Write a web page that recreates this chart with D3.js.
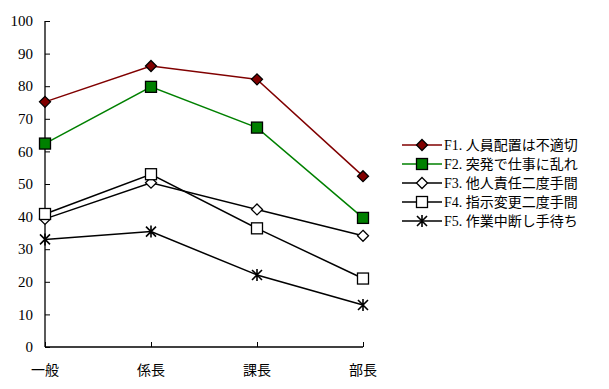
<!DOCTYPE html>
<html lang="ja">
<head>
<meta charset="utf-8">
<title>職位別</title>
<script src="https://cdn.jsdelivr.net/npm/d3@7/dist/d3.min.js"></script>
<style>
  body { margin: 0; background: #fff; }
  text { font-family: "Liberation Serif", "DejaVu Serif", "Noto Sans CJK JP", serif; fill: #000; }
</style>
</head>
<body>
<script>

var categories = ["一般", "係長", "課長", "部長"];
var seriesNames = ["F1. 人員配置は不適切", "F2. 突発で仕事に乱れ", "F3. 他人責任二度手間", "F4. 指示変更二度手間", "F5. 作業中断し手待ち"];
var f1 = [75.2, 86.2, 82.1, 52.4];
var f2 = [62.4, 79.8, 67.3, 39.6];
var f3 = [39.3, 50.4, 42.2, 34.1];
var f4 = [40.8, 53.0, 36.4, 21.0];
var f5 = [33.0, 35.4, 22.1, 12.9];
var yTicks = [0, 10, 20, 30, 40, 50, 60, 70, 80, 90, 100];

var width = 609, height = 389;

var svg = d3.select("body").append("svg")
    .attr("width", width)
    .attr("height", height);

var x = d3.scalePoint()
    .domain(categories)
    .range([45, 363]);

var y = d3.scaleLinear()
    .domain([0, 100])
    .range([347, 21]);

// styles per series
var series = [
    { name: seriesNames[0], values: f1, line: "#800000", marker: "diamond", fill: "#800000" },
    { name: seriesNames[1], values: f2, line: "#008000", marker: "square", fill: "#008000" },
    { name: seriesNames[2], values: f3, line: "#000", marker: "diamond", fill: "#fff" },
    { name: seriesNames[3], values: f4, line: "#000", marker: "square", fill: "#fff" },
    { name: seriesNames[4], values: f5, line: "#000", marker: "star", fill: "none" }
];

// axes
var yAxis = svg.append("g")
    .attr("transform", "translate(45,0)")
    .call(d3.axisRight(y).tickValues(yTicks).tickSize(5).tickFormat(""));
yAxis.select(".domain").attr("d", "M0,21V347");

svg.selectAll(".ylab")
    .data(yTicks)
    .enter()
    .append("text")
    .attr("class", "ylab")
    .attr("x", 33)
    .attr("y", function (d) { return y(d); })
    .attr("dy", "0.35em")
    .attr("text-anchor", "end")
    .attr("font-size", 15)
    .text(function (d) { return d; });

var xAxis = svg.append("g")
    .attr("transform", "translate(0,347)")
    .call(d3.axisTop(x).tickSize(5).tickSizeOuter(0).tickFormat(""));
xAxis.select(".domain").attr("d", "M45,0H363");

svg.selectAll(".xlab")
    .data(categories)
    .enter()
    .append("text")
    .attr("class", "xlab")
    .attr("x", function (d) { return x(d); })
    .attr("y", 370)
    .attr("dy", "0.35em")
    .attr("text-anchor", "middle")
    .attr("font-size", 14)
    .text(function (d) { return d; });

svg.selectAll(".tick line").attr("stroke", "#000");
svg.selectAll(".domain").attr("stroke", "#000").attr("stroke-width", 1.3);

function drawMarker(g, type, fill) {
    if (type === "diamond") {
        g.append("path").attr("d", "M0,-5.5L5.5,0L0,5.5L-5.5,0Z")
            .attr("fill", fill).attr("stroke", "#000").attr("stroke-width", 1.3);
    } else if (type === "square") {
        g.append("rect").attr("x", -5.5).attr("y", -5.5).attr("width", 11).attr("height", 11)
            .attr("fill", fill).attr("stroke", "#000").attr("stroke-width", 1.3);
    } else {
        g.append("path").attr("d", "M-5,-5L5,5M-5,5L5,-5M0,-6V6")
            .attr("fill", "none").attr("stroke", "#000").attr("stroke-width", 1.6);
    }
}

var line = d3.line()
    .x(function (d, i) { return x(categories[i]); })
    .y(function (d) { return y(d); });

series.forEach(function (s) {
    svg.append("path")
        .datum(s.values)
        .attr("d", line)
        .attr("fill", "none")
        .attr("stroke", s.line)
        .attr("stroke-width", 1.5);
});

series.forEach(function (s) {
    s.values.forEach(function (v, i) {
        var g = svg.append("g")
            .attr("transform", "translate(" + x(categories[i]) + "," + y(v) + ")");
        drawMarker(g, s.marker, s.fill);
    });
});

// legend
var legend = svg.append("g").attr("transform", "translate(402,145)");
series.forEach(function (s, i) {
    var row = legend.append("g").attr("transform", "translate(0," + (i * 19) + ")");
    row.append("line")
        .attr("x1", 0).attr("x2", 40)
        .attr("stroke", s.line).attr("stroke-width", 1.5);
    drawMarker(row.append("g").attr("transform", "translate(20,0)"), s.marker, s.fill);
    row.append("text")
        .attr("x", 42)
        .attr("dy", "0.35em")
        .attr("font-size", 14)
        .text(s.name);
});

</script>
</body>
</html>
